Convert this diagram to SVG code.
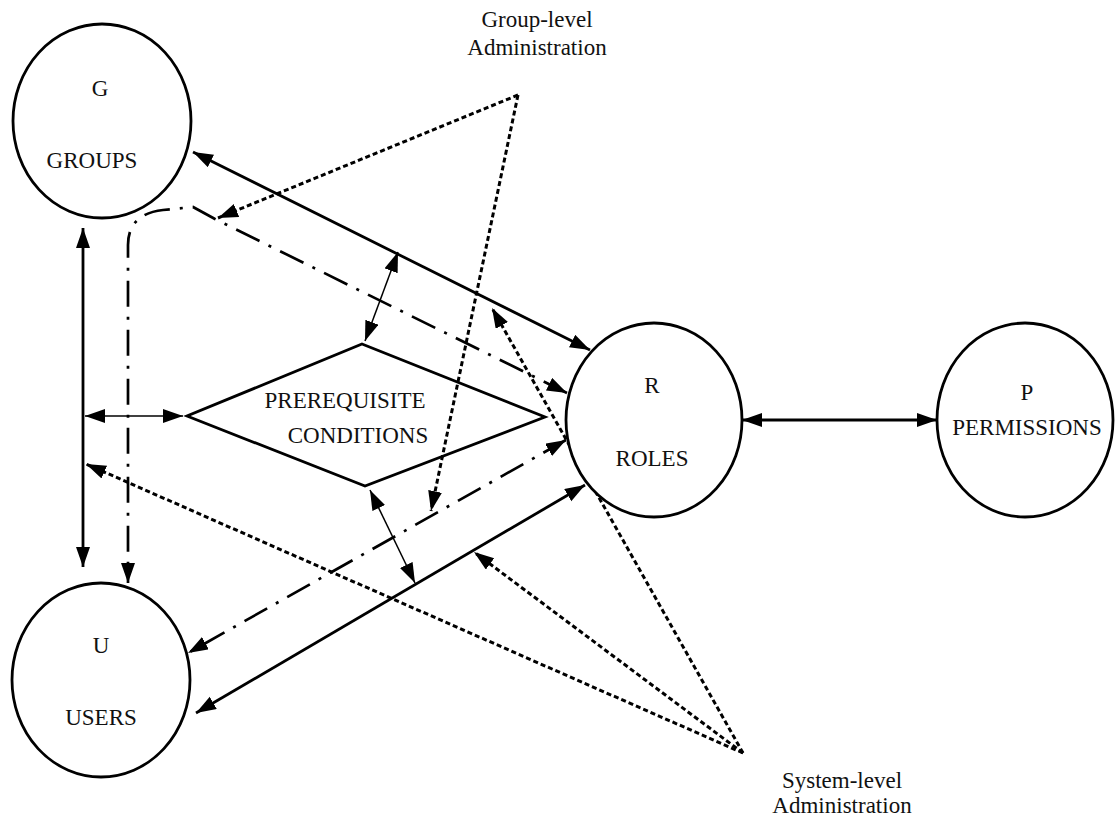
<svg xmlns="http://www.w3.org/2000/svg" width="1115" height="822" viewBox="0 0 1115 822">
<style>
.node{fill:#fff;stroke:#000;stroke-width:2.8}
.lbl{font-family:"Liberation Serif","Times New Roman",serif;font-size:23px;fill:#111;text-anchor:middle}
.solid{fill:none;stroke:#000;stroke-width:2.8}
.thin{fill:none;stroke:#000;stroke-width:1.5}
.dashdot{fill:none;stroke:#000;stroke-width:2.7;stroke-dasharray:26 10 3 10}
.dotted{fill:none;stroke:#000;stroke-width:3;stroke-dasharray:5 3}
</style>
<defs>
<marker id="ah" markerUnits="userSpaceOnUse" markerWidth="22" markerHeight="16" refX="20" refY="7" orient="auto-start-reverse">
<path d="M0,0 L20,7 L0,14 z" fill="#000"/>
</marker>
</defs>
<rect width="1115" height="822" fill="#fff"/>
<g id="connectors">
<line class="solid" x1="193" y1="152" x2="590" y2="350" marker-start="url(#ah)" marker-end="url(#ah)"/>
<line class="solid" x1="83" y1="228" x2="83" y2="567" marker-start="url(#ah)" marker-end="url(#ah)"/>
<line class="thin" x1="85" y1="416" x2="183" y2="416" marker-start="url(#ah)" marker-end="url(#ah)"/>
<line class="solid" x1="742" y1="420" x2="937" y2="420" marker-start="url(#ah)" marker-end="url(#ah)"/>
<line class="solid" x1="196" y1="713" x2="585" y2="485" marker-start="url(#ah)" marker-end="url(#ah)"/>
<line class="thin" x1="398" y1="252" x2="365" y2="341" marker-start="url(#ah)" marker-end="url(#ah)"/>
<line class="thin" x1="370" y1="490" x2="415" y2="583" marker-start="url(#ah)" marker-end="url(#ah)"/>
<path class="dashdot" d="M567,393 L215,219 L193,207 L163,210 Q128,214 128,245 L128,583" marker-start="url(#ah)" marker-end="url(#ah)"/>
<line class="dashdot" x1="566" y1="440" x2="188" y2="653" marker-start="url(#ah)" marker-end="url(#ah)"/>
<line class="dotted" x1="518" y1="95" x2="218" y2="218" marker-end="url(#ah)"/>
<line class="dotted" x1="518" y1="95" x2="431" y2="511" marker-end="url(#ah)"/>
<line class="dotted" x1="743" y1="753" x2="86" y2="464" marker-end="url(#ah)"/>
<line class="dotted" x1="743" y1="753" x2="474" y2="552" marker-end="url(#ah)"/>
<line class="dotted" x1="743" y1="753" x2="492" y2="308" marker-end="url(#ah)"/>
</g>
<g id="node-groups">
<ellipse class="node" cx="102" cy="121" rx="89" ry="97"/>
<text class="lbl" x="100" y="96">G</text>
<text class="lbl" x="92" y="168">GROUPS</text>
</g>
<g id="node-users">
<ellipse class="node" cx="101" cy="680" rx="89" ry="97"/>
<text class="lbl" x="101" y="653">U</text>
<text class="lbl" x="101" y="725">USERS</text>
</g>
<g id="node-roles">
<ellipse class="node" cx="654" cy="420" rx="88" ry="97"/>
<text class="lbl" x="652" y="393">R</text>
<text class="lbl" x="652" y="466">ROLES</text>
</g>
<g id="node-permissions">
<ellipse class="node" cx="1025" cy="420" rx="88" ry="97"/>
<text class="lbl" x="1027" y="400">P</text>
<text class="lbl" x="1027" y="435">PERMISSIONS</text>
</g>
<g id="node-prerequisite">
<polygon fill="none" stroke="#000" stroke-width="2.8" points="362,344 545,417 365,486 187,416"/>
<text class="lbl" x="345" y="408">PREREQUISITE</text>
<text class="lbl" x="358" y="443">CONDITIONS</text>
</g>
<g id="label-group-admin">
<text class="lbl" x="537" y="27">Group-level</text>
<text class="lbl" x="537" y="55">Administration</text>
</g>
<g id="label-system-admin">
<text class="lbl" x="842" y="788">System-level</text>
<text class="lbl" x="842" y="813">Administration</text>
</g>
</svg>
